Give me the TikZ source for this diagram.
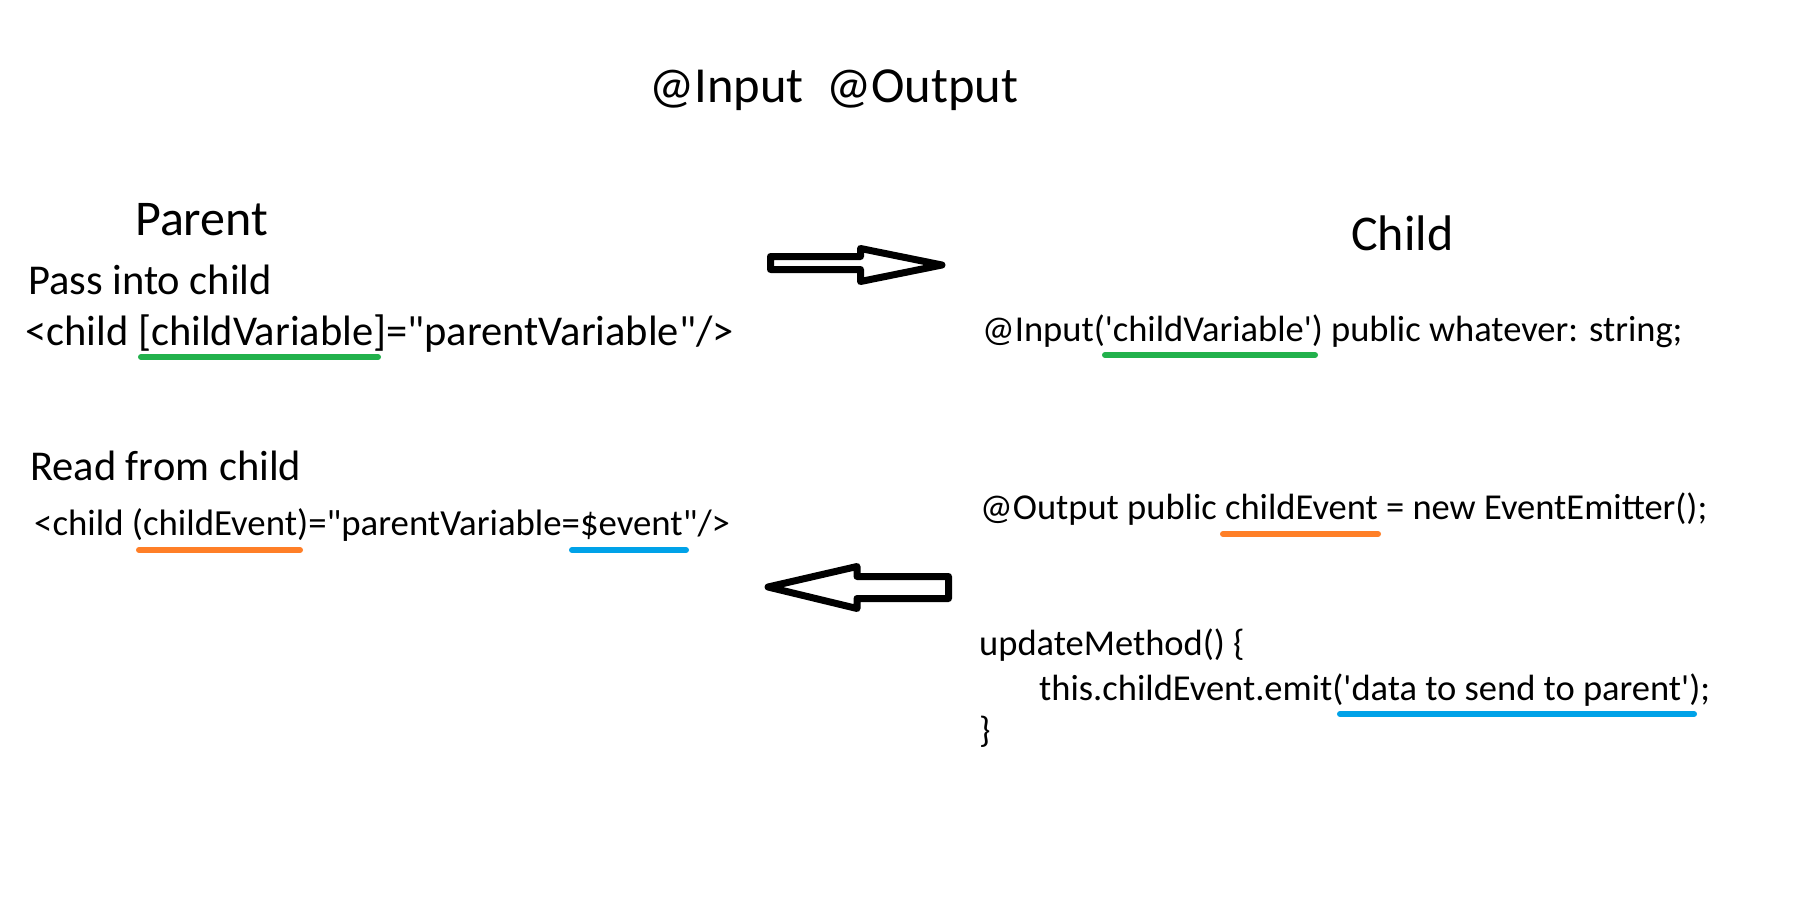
\documentclass[tikz,border=0pt]{standalone}
\usepackage{fontspec}
\setmainfont{Carlito}[Ligatures=TeXOff]
\definecolor{pgreen}{HTML}{22B14C}
\definecolor{porange}{HTML}{FF7F27}
\definecolor{pblue}{HTML}{00A2E8}
\begin{document}
\begin{tikzpicture}[x=1pt,y=-1pt,
  title/.style={anchor=base west, inner sep=0pt, font=\fontsize{50}{60}\selectfont},
  big/.style={anchor=base west, inner sep=0pt, font=\fontsize{42.5}{50}\selectfont},
  code/.style={anchor=base west, inner sep=0pt, font=\fontsize{36.5}{44}\selectfont},
  uline/.style={line width=6pt, line cap=round},
  blockarrow/.style={draw=black, fill=white, line width=7pt, line join=round}]
\useasboundingbox (0,0) rectangle (1801,920);
\fill[white] (0,0) rectangle (1801,920);

\node[title, font=\fontsize{50.5}{60}\selectfont] (head) at (649,103) {@Input\ \ @Output};
\node[title] (parent) at (135,235) {Parent};
\node[title] (child) at (1351,250) {Child};

\node[big] (pass) at (28,294) {Pass into child};
\node[big] (passcode) at (25,345) {<child [childVariable]="parentVariable"/>};
\node[big] (read) at (30,480) {Read from child};
\node[code, font=\fontsize{36.8}{44}\selectfont] (readcode) at (34,535) {<child (childEvent)="parentVariable=\$event"/>};

\node[code] (inp) at (982,341) {@Input('childVariable') public whatever: string;};
\node[code] (outp) at (980,519) {@Output public childEvent = new EventEmitter();};
\node[code] (upd) at (979,655) {updateMethod() \{};
\node[code] (emit) at (1039,700) {this.childEvent.emit('data to send to parent');};
\node[code] (close) at (979,742) {\}};

% underlines
\draw[uline, pgreen] (141,357) -- (378,357);
\draw[uline, porange] (139,550) -- (300,550);
\draw[uline, pblue] (572,550) -- (686,550);
\draw[uline, pgreen] (1105,355) -- (1315,355);
\draw[uline, porange] (1223,534) -- (1378,534);
\draw[uline, pblue] (1340,714) -- (1694,714);

% block arrows
\draw[blockarrow] (770.5,256.5) -- (860.5,256.5) -- (860.5,248.5) -- (942,265)
  -- (860.5,281.5) -- (860.5,269.5) -- (770.5,269.5) -- cycle;
\draw[blockarrow] (948.5,576.5) -- (857,576.5) -- (857,566.5) -- (768,587)
  -- (857,608.5) -- (857,598.5) -- (948.5,598.5) -- cycle;
\end{tikzpicture}
\end{document}
